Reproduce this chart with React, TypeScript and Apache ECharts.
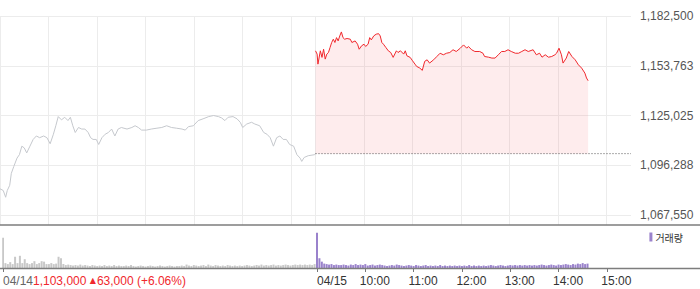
import React, { useEffect, useRef } from "react";
import * as echarts from "echarts";

// ---------- data ----------
const days = ["04/14", "04/15"];
const prevClose = 1103000;
const infoPrice = "1,103,000";
const infoChange = "63,000";
const infoPct = "(+6.06%)";

const yTicks = [1067550, 1096287.5, 1125025, 1153762.5, 1182500];
const yTickLabels = ["1,067,550", "1,096,288", "1,125,025", "1,153,763", "1,182,500"];

const gridTimes = ["09:00", "10:00", "11:00", "12:00", "13:00", "14:00", "15:00"];
const xTickCats = ["04/14 09:00", "04/15 09:00", "04/15 10:00", "04/15 11:00", "04/15 12:00", "04/15 13:00", "04/15 14:00", "04/15 15:00"];
const xTickLabels = ["04/14", "04/15", "10:00", "11:00", "12:00", "13:00", "14:00", "15:00"];

// [minute index on the two-day axis, price]
const day1Price: [number, number][] = [
  [0, 1082700], [4, 1081700], [7, 1077800], [9, 1081700], [12, 1084700], [14, 1091600], [17, 1095500],
  [21, 1100400], [24, 1102400], [27, 1107300], [30, 1106300], [33, 1103400], [37, 1107300], [41, 1111200],
  [45, 1113200], [49, 1112200], [54, 1113200], [58, 1112200], [62, 1108700], [66, 1114200], [69, 1119100],
  [72, 1124400], [76, 1122500], [80, 1124000], [84, 1122100], [87, 1124000], [90, 1119100], [93, 1115200],
  [97, 1118100], [101, 1117200], [105, 1117200], [109, 1115200], [112, 1112200], [115, 1111200], [119, 1111200],
  [122, 1108300], [126, 1112200], [130, 1114200], [134, 1115200], [138, 1117200], [142, 1113200], [146, 1117200],
  [150, 1118100], [157, 1117200], [163, 1118100], [167, 1119100], [171, 1118100], [175, 1116600], [181, 1116600],
  [187, 1117200], [194, 1117700], [200, 1118100], [206, 1119100], [212, 1118100], [218, 1117700], [225, 1117200],
  [229, 1116600], [233, 1118600], [239, 1119100], [245, 1122100], [251, 1123100], [258, 1124400], [264, 1125000],
  [270, 1124400], [274, 1123600], [278, 1122100], [282, 1124000], [288, 1124400], [293, 1123100], [297, 1121100],
  [300, 1118100], [305, 1120100], [311, 1121100], [315, 1120100], [321, 1119100], [326, 1115200], [330, 1114200],
  [334, 1112200], [338, 1107300], [342, 1112200], [346, 1113200], [350, 1111200], [354, 1111200], [358, 1108300],
  [363, 1107300], [367, 1102400], [371, 1100400], [373, 1098500], [376, 1100800], [381, 1101800], [389, 1102400],
  [390, 1103000],
];

const day2Price: [number, number][] = [
  [390, 1162400], [392, 1160500], [393, 1154700], [396, 1162400], [398, 1158600], [400, 1163300], [402, 1157600],
  [404, 1160500], [406, 1161400], [408, 1164300], [410, 1167200], [412, 1169100], [414, 1167200], [416, 1170000],
  [418, 1168100], [420, 1171000], [422, 1173300], [424, 1170000], [426, 1169100], [429, 1169500], [433, 1169100],
  [435, 1167200], [439, 1168100], [442, 1166200], [444, 1163300], [447, 1165300], [450, 1166200], [452, 1164900],
  [455, 1166200], [457, 1170000], [459, 1168700], [462, 1171000], [465, 1172000], [468, 1172300], [470, 1171000],
  [472, 1167200], [474, 1166200], [477, 1164300], [480, 1162400], [483, 1161400], [486, 1158600], [490, 1162400],
  [492, 1161400], [495, 1162400], [499, 1160500], [501, 1162400], [503, 1159500], [507, 1158600], [510, 1156600],
  [513, 1154700], [515, 1153400], [519, 1152400], [522, 1151100], [525, 1156300], [528, 1157200], [531, 1155300],
  [536, 1157200], [540, 1159100], [544, 1161000], [548, 1160100], [552, 1161000], [556, 1161400], [560, 1163000],
  [564, 1162000], [569, 1163900], [573, 1165800], [577, 1163900], [579, 1164900], [583, 1163000], [587, 1162000],
  [593, 1162000], [597, 1161000], [599, 1159100], [604, 1158700], [608, 1158200], [612, 1158200], [616, 1160100],
  [620, 1162000], [624, 1162000], [628, 1163000], [632, 1162000], [637, 1161000], [641, 1161000], [645, 1162000],
  [649, 1163000], [653, 1162000], [659, 1163000], [663, 1160100], [667, 1161000], [670, 1158700], [674, 1160100],
  [678, 1158700], [682, 1159100], [686, 1160100], [688, 1161000], [691, 1163900], [694, 1160100], [696, 1155300],
  [700, 1158200], [703, 1162000], [707, 1159100], [711, 1157200], [715, 1154300], [719, 1152400], [723, 1149500],
  [725, 1146700], [727, 1145100],
];

// volume sampled every 3 minutes
const volStep = 3;
const day1Volume = [
  3100, 500, 400, 600, 400, 1150, 500, 1250, 500, 900,
  500, 400, 500, 700, 400, 500, 700, 650, 400, 400,
  500, 400, 450, 1150, 1000, 400, 300, 350, 300, 250,
  300, 250, 350, 250, 300, 250, 200, 300, 250, 200,
  250, 200, 300, 200, 250, 200, 300, 200, 250, 200,
  200, 250, 200, 300, 200, 150, 200, 250, 200, 150,
  200, 250, 200, 150, 200, 250, 200, 150, 200, 250,
  200, 150, 200, 200, 250, 200, 350, 250, 200, 300,
  250, 200, 250, 300, 200, 350, 250, 200, 300, 250,
  200, 250, 200, 300, 250, 200, 250, 200, 250, 200,
  250, 300, 250, 200, 250, 300, 250, 350, 250, 300,
  250, 300, 350, 250, 300, 250, 300, 350, 300, 250,
  300, 350, 300, 350, 300, 350, 300, 350, 300, 400,
];
const day2Volume = [
  3600, 1000, 650, 450, 400, 350, 400, 300, 350, 300,
  300, 350, 300, 250, 350, 300, 400, 300, 350, 300,
  400, 250, 300, 350, 250, 300, 350, 300, 250, 200,
  250, 300, 250, 350, 300, 250, 200, 250, 300, 250,
  200, 300, 250, 200, 250, 300, 200, 250, 200, 250,
  200, 300, 200, 250, 200, 250, 200, 250, 200, 250,
  200, 250, 200, 300, 200, 250, 200, 250, 200, 250,
  200, 250, 300, 250, 200, 250, 300, 250, 200, 250,
  300, 250, 300, 250, 300, 250, 300, 250, 300, 250,
  300, 250, 300, 350, 300, 250, 300, 350, 300, 250,
  350, 300, 350, 400, 350, 300, 400, 350, 450, 400,
  500, 400, 450,
];

// ---------- helpers ----------
const pad = (n: number) => (n < 10 ? "0" + n : "" + n);
const categories: string[] = [];
days.forEach((d, di) => {
  const count = di === days.length - 1 ? 391 : 390;
  for (let m = 0; m < count; m++) {
    const h = 9 + Math.floor(m / 60);
    categories.push(`${d} ${pad(h)}:${pad(m % 60)}`);
  }
});
const dayStart = [0, 390];
const gridCats = new Set<string>();
days.forEach((d) => gridTimes.forEach((t) => gridCats.add(`${d} ${t}`)));
const tickCats = new Set(xTickCats);

const FONT = "'Liberation Sans', 'Noto Sans', sans-serif";

export default function App() {
  const ref = useRef<HTMLDivElement>(null);
  useEffect(() => {
    if (!ref.current) return;
    const chart = echarts.init(ref.current, undefined, { renderer: "svg" });
    const vol1 = day1Volume.map((v, i) => [dayStart[0] + i * volStep, v]);
    const vol2 = day2Volume.map((v, i) => [dayStart[1] + i * volStep, v]);
    const lastIdx = categories.length - 1;
    chart.setOption({
      animation: false,
      textStyle: { fontFamily: FONT },
      grid: [
        { left: 0, right: 69, top: 16, bottom: 64 },
        { left: 0, right: 69, top: 226, bottom: 21 },
      ],
      legend: {
        data: [{ name: "거래량", icon: "rect" }],
        right: 12,
        top: 227,
        itemWidth: 3,
        itemHeight: 9,
        itemGap: 4,
        textStyle: { fontSize: 10, color: "#333", fontFamily: "'Noto Sans CJK KR', sans-serif", padding: [0, 0, 0, -2] },
        selectedMode: false,
      },
      xAxis: [
        {
          type: "category",
          gridIndex: 0,
          data: categories,
          boundaryGap: false,
          axisLine: { show: false },
          axisTick: { show: false },
          axisLabel: { show: false },
          splitLine: {
            show: true,
            interval: (_i: number, v: string) => gridCats.has(v),
            lineStyle: { color: "#ececec", width: 1 },
          },
        },
        {
          type: "category",
          gridIndex: 1,
          data: categories,
          boundaryGap: false,
          axisLine: { show: false },
          axisTick: {
            show: true,
            interval: (_i: number, v: string) => tickCats.has(v),
            length: 4,
            lineStyle: { color: "#777" },
          },
          axisLabel: {
            show: true,
            interval: (_i: number, v: string) => tickCats.has(v),
            alignMinLabel: "left",
            margin: 7,
            fontSize: 12,
            color: "#333",
            fontFamily: FONT,
            formatter: (v: string) => {
              const k = xTickCats.indexOf(v);
              if (k < 0) return "";
              if (k === 0) return `{g|${xTickLabels[0]}}{r|${infoPrice} }{tri|▲}{r|${infoChange} ${infoPct}}`;
              if (k === 1) return `{d|${xTickLabels[1]}}`;
              return `{t|${xTickLabels[k]}}`;
            },
            rich: {
              g: { color: "#666", fontSize: 12, fontFamily: FONT },
              r: { color: "#f0282d", fontSize: 12, fontFamily: FONT },
              tri: { color: "#f0282d", fontSize: 8, fontFamily: "'DejaVu Sans', sans-serif", padding: [0, 1, 2, 0] },
              d: { color: "#333", fontSize: 12, fontFamily: FONT, padding: [0, 0, 0, 30] },
              t: { color: "#333", fontSize: 12, fontFamily: FONT, padding: [0, 0, 0, 19] },
            },
          },
          splitLine: { show: false },
        },
      ],
      yAxis: [
        {
          type: "value",
          gridIndex: 0,
          position: "right",
          min: 1061774,
          max: 1182500,
          axisLine: { show: false },
          axisTick: { show: false, customValues: yTicks },
          axisLabel: {
            customValues: yTicks,
            margin: 9,
            fontSize: 12,
            color: "#555",
            fontFamily: FONT,
            formatter: (v: number) => {
              const k = yTicks.findIndex((t) => Math.abs(t - v) < 1);
              return k >= 0 ? yTickLabels[k] : "";
            },
          },
          splitLine: { show: true, lineStyle: { color: "#ececec", width: 1 } },
        },
        {
          type: "value",
          gridIndex: 1,
          min: 0,
          max: 4300,
          show: false,
          splitLine: { show: false },
        },
      ],
      graphic: [
        { type: "line", silent: true, z: 100, shape: { x1: 0, y1: 225, x2: 700, y2: 225 }, style: { stroke: "#7d7d7d", lineWidth: 1.5 } },
        { type: "line", silent: true, z: 100, shape: { x1: 0, y1: 268.5, x2: 700, y2: 268.5 }, style: { stroke: "#7d7d7d", lineWidth: 1.5 } },
      ],
      series: [
        {
          type: "line",
          name: "04/14",
          xAxisIndex: 0,
          yAxisIndex: 0,
          data: day1Price,
          symbol: "none",
          lineStyle: { color: "#c5c8cd", width: 1 },
          z: 3,
        },
        {
          type: "line",
          name: "04/15",
          xAxisIndex: 0,
          yAxisIndex: 0,
          data: day2Price,
          symbol: "none",
          lineStyle: { color: "#f0282d", width: 1 },
          areaStyle: { color: "rgba(245,120,130,0.2)", origin: prevClose },
          z: 3,
        },
        {
          type: "line",
          name: "prev",
          xAxisIndex: 0,
          yAxisIndex: 0,
          data: [[dayStart[1], prevClose], [lastIdx, prevClose]],
          symbol: "none",
          lineStyle: { color: "#555", width: 1, type: [1, 2] },
          z: 4,
        },
        {
          type: "bar",
          name: "거래량(04/14)",
          xAxisIndex: 1,
          yAxisIndex: 1,
          data: vol1,
          barWidth: 2,
          barGap: "-100%",
          itemStyle: { color: "#c8c8c8" },
        },
        {
          type: "bar",
          name: "거래량",
          xAxisIndex: 1,
          yAxisIndex: 1,
          data: vol2,
          barWidth: 2,
          barGap: "-100%",
          itemStyle: { color: "#9a82cc" },
        },
      ],
    });
    return () => chart.dispose();
  }, []);
  return <div ref={ref} style={{ position: "absolute", left: 0, top: 0, width: 700, height: 289 }} />;
}
